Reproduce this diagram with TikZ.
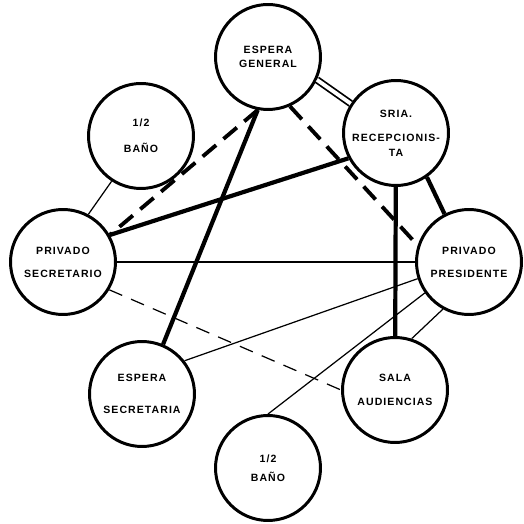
\documentclass[tikz,border=0pt]{standalone}
\usepackage{fontspec}
\newfontfamily\roomfont[LetterSpace=10]{Liberation Sans}
\tikzset{
    room/.style={circle, draw, line width=1.7pt, minimum size=2.1cm, inner sep=0pt,
        align=center, font=\roomfont\bfseries\fontsize{6}{7}\selectfont},
    wall/.style={line width=2.4pt},
    walldash/.style={line width=2.2pt, dash pattern=on 10pt off 5.5pt},
    thinline/.style={line width=0.7pt},
    thindash/.style={line width=0.7pt, dash pattern=on 8pt off 5.5pt},
    pass/.style={double, line width=1pt, double distance=2.2pt}
}
\begin{document}
\begin{tikzpicture}[x=0.02cm, y=0.02cm]
    \useasboundingbox (0,0) rectangle (524,524);
    % rooms
    \node[room] (eg) at (268,467) {ESPERA\\[1pt]GENERAL};
    \node[room] (sria) at (396,391) {SRIA.\\[7pt]RECEPCIONIS-\\[1pt]TA};
    \node[room] (bt) at (141,388) {1/2\\[8pt]BAÑO};
    \node[room] (ps) at (63,262) {PRIVADO\\[6pt]SECRETARIO};
    \node[room] (pp) at (469,262) {PRIVADO\\[6pt]PRESIDENTE};
    \node[room] (es) at (142,130) {ESPERA\\[11pt]SECRETARIA};
    \node[room] (sa) at (395,134) {SALA\\[7pt]AUDIENCIAS};
    \node[room] (bb) at (268,56) {1/2\\[4pt]BAÑO};
    % strong links
    \draw[pass] (eg.-25) -- (sria.147);
    \draw[walldash] (eg.259) -- (ps.30);
    \draw[wall] (eg.259) -- (es.67);
    \draw[walldash] (eg.294) -- (pp.162);
    \draw[wall] (sria.208) -- (ps.30);
    \draw[wall] (sria) -- (sa);
    \draw[wall] (sria.-55) -- (pp.117);
    % weak links
    \draw[thinline] (ps) -- (pp);
    \draw[thindash] (ps.-31) -- (sa.180);
    \draw[thinline] (bt.237) -- (ps.62);
    \draw[thinline] (es.38) -- (pp.198);
    \draw[thinline] (bb.90) -- (pp.215);
    \draw[thinline] (sa.72) -- (pp.241);
\end{tikzpicture}
\end{document}
